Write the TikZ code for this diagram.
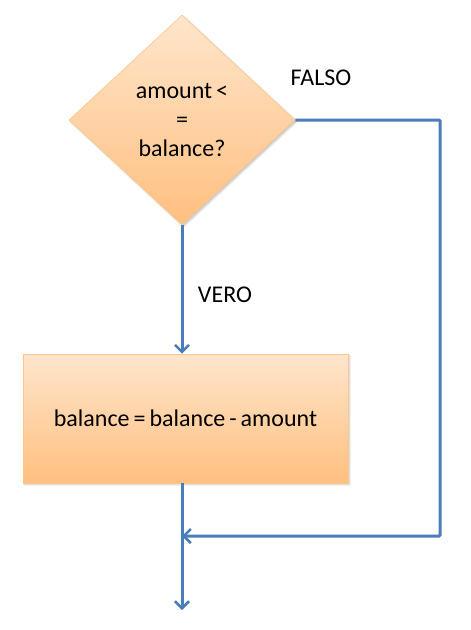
\documentclass[tikz,border=0pt]{standalone}
\usepackage{fontspec}
\setmainfont{Carlito}
\usetikzlibrary{shapes.geometric,arrows.meta,shadows.blur}

\begin{document}
\begin{tikzpicture}[x=1pt,y=-1pt]

  \tikzset{every node/.style={font=\fontsize{24}{29}\selectfont},
    orangebox/.style={draw=orange!45, line width=0.6pt, top color=orange!20!white, bottom color=orange!50!white,
      blur shadow={shadow xshift=1.5pt,shadow yshift=-1.5pt,shadow blur steps=4,shadow opacity=25}},
    flow/.style={draw={rgb,255:red,74;green,126;blue,187}, line width=3pt,
      -{Straight Barb[length=7pt,width=14pt,line width=2.5pt]}}}

  \useasboundingbox (0,0) rectangle (471,630);

  \node (cond) at (182,120) [diamond, orangebox, minimum width=226pt, minimum height=210pt, inner sep=0pt, align=center]
    {amount\,<\\=\\balance?};
  \node (stmt) at (185.5,418.5) [rectangle, orangebox, minimum width=325pt, minimum height=129pt]
    {balance\,=\,balance\,-\,amount};

  \node (falso) at (321,78) {FALSO};
  \node (vero) at (225,295) {VERO};

  \coordinate (c1) at (440,120);
  \coordinate (c2) at (440,536);
  \coordinate (j) at (182,536);
  \coordinate (e) at (182,610);

  \draw [flow] (cond.south) -- (cond.south |- stmt.north);
  \draw [flow, rounded corners=1pt] (cond.east) -- (c1) -- (c2) -- (j);
  \draw [flow] (cond.south |- stmt.south) -- (e);

\end{tikzpicture}
\end{document}
